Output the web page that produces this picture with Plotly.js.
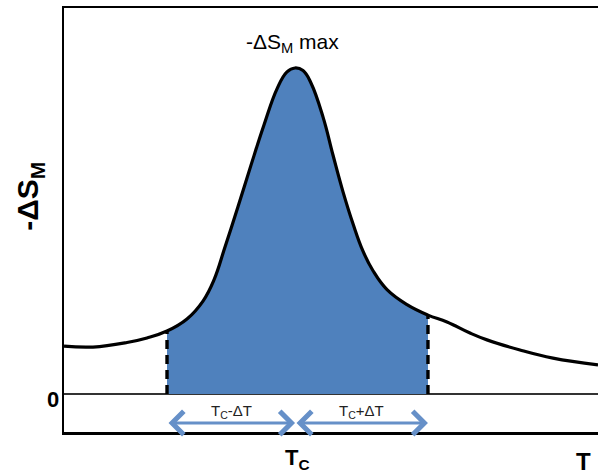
<!DOCTYPE html>
<html>
<head>
<meta charset="utf-8">
<script src="https://cdn.plot.ly/plotly-3.0.1.min.js"></script>
<style>
  html, body { margin: 0; padding: 0; background: #fff; }
  #chart { width: 598px; height: 476px; }
</style>
</head>
<body>
<div id="chart"></div>
<script>
// temperature (arbitrary units) and -dS_M (normalised to peak = 1)
const temps = [0, 5.43, 11.80, 15.54, 19.29, 23.03, 26.03, 28.09, 30.15, 32.58, 35.02, 37.45,
               39.89, 41.76, 43.26, 44.76, 46.25, 48.50, 50.37, 52.25, 54.12, 55.99, 57.87,
               60.49, 64.23, 68.16, 71.72, 76.03, 79.21, 85.39, 91.57, 100];
const entropy = [0.147, 0.144, 0.158, 0.172, 0.193, 0.230, 0.285, 0.350, 0.451, 0.574, 0.702, 0.825,
                 0.936, 0.988, 1.0, 0.992, 0.954, 0.850, 0.733, 0.620, 0.522, 0.438, 0.378,
                 0.320, 0.274, 0.242, 0.221, 0.187, 0.166, 0.135, 0.110, 0.089];

const tc = 43.26;
const edgeT = [19.29, 68.16];      // Tc - dT, Tc + dT
const edgeS = [0.193, 0.242];
const arrowY = -0.089;

const fillBlue = '#4f81bd';
const arrowBlue = '#6690c8';

// shaded part between the two edges
const iLo = temps.indexOf(edgeT[0]);
const iHi = temps.indexOf(edgeT[1]);

const traces = [
    {
        x: temps.slice(iLo, iHi + 1),
        y: entropy.slice(iLo, iHi + 1),
        type: 'scatter',
        mode: 'lines',
        fill: 'tozeroy',
        fillcolor: fillBlue,
        line: { width: 0, shape: 'spline', smoothing: 1.2 },
        hoverinfo: 'skip',
    },
    {
        x: temps,
        y: entropy,
        type: 'scatter',
        mode: 'lines',
        line: { color: '#000', width: 3.2, shape: 'spline', smoothing: 1.2 },
    },
];

edgeT.forEach((t, i) => {
    traces.push({
        x: [t, t],
        y: [0, edgeS[i]],
        type: 'scatter',
        mode: 'lines',
        line: { color: '#000', width: 3.4, dash: '9px,6px' },
    });
});

const bold = { family: 'Liberation Sans, Arial, sans-serif', size: 22, color: '#000', weight: 'bold' };
const small = { family: 'Liberation Sans, Arial, sans-serif', size: 15, color: '#222' };

const arrow = (x0, x1) => ({
    x: x1, y: arrowY, ax: x0, ay: arrowY, axref: 'x', ayref: 'y', xref: 'x', yref: 'y',
    text: '', showarrow: true, arrowside: 'end+start', arrowhead: 4, startarrowhead: 4,
    arrowsize: 1.5, startarrowsize: 1.5, arrowwidth: 3, arrowcolor: arrowBlue,
});

const annotations = [
    // double arrows below the zero line
    arrow(edgeT[0], tc),
    arrow(tc, edgeT[1]),
    { x: (edgeT[0] + tc) / 2, y: arrowY, yshift: 12, xref: 'x', yref: 'y', showarrow: false,
      text: 'T<sub>C</sub>-ΔT', font: small },
    { x: (edgeT[1] + tc) / 2, y: arrowY, yshift: 12, xref: 'x', yref: 'y', showarrow: false,
      text: 'T<sub>C</sub>+ΔT', font: small },
    // peak label
    { x: 42.7, y: 1.077, xref: 'x', yref: 'y', showarrow: false,
      text: '-ΔS<sub>M</sub> max', font: { family: 'Liberation Sans, Arial, sans-serif', size: 21, color: '#000' } },
    // axis labels
    { x: 0, xshift: -11, y: 0, yshift: -6, xref: 'paper', yref: 'y', xanchor: 'center', yanchor: 'middle',
      showarrow: false, text: '0', font: bold },
    { x: tc, xshift: 2, y: 0, yshift: -27, xref: 'x', yref: 'paper', xanchor: 'center', yanchor: 'middle',
      showarrow: false, text: 'T<sub>C</sub>', font: bold },
    { x: 97.2, y: 0, yshift: -29, xref: 'x', yref: 'paper', xanchor: 'center', yanchor: 'middle',
      showarrow: false, text: 'T', font: { ...bold, size: 24 } },
    { x: 0, xshift: -34, y: 0.605, xref: 'paper', yref: 'y', xanchor: 'center', yanchor: 'middle',
      showarrow: false, textangle: -90, text: '-ΔS<sub>M</sub>', font: { ...bold, size: 30 } },
];

const layout = {
    width: 598,
    height: 476,
    margin: { l: 64, r: 0, t: 8, b: 44 },
    paper_bgcolor: '#fff',
    plot_bgcolor: '#fff',
    showlegend: false,
    xaxis: {
        range: [0, 100],
        showgrid: false, zeroline: false, showticklabels: false, ticks: '',
        showline: true, mirror: true, linecolor: '#000', linewidth: 2.5,
    },
    yaxis: {
        range: [-0.1166, 1.184],
        showgrid: false, showticklabels: false, ticks: '',
        zeroline: true, zerolinecolor: '#333', zerolinewidth: 1.5,
        showline: true, mirror: false, linecolor: '#000', linewidth: 2.5,
    },
    annotations: annotations,
};

Plotly.newPlot('chart', traces, layout, { displayModeBar: false, staticPlot: true });
</script>
</body>
</html>
